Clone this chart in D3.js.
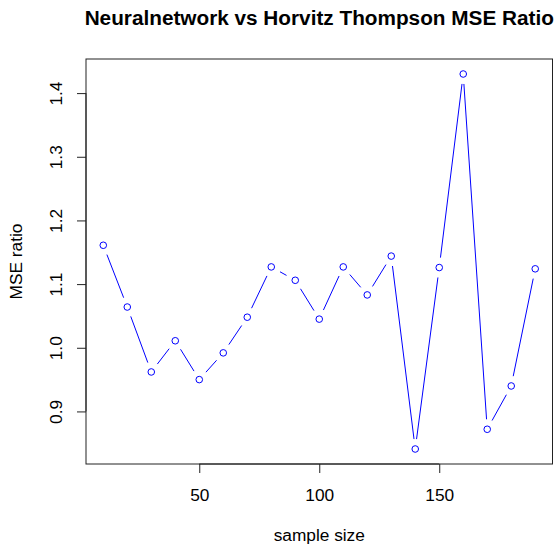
<!DOCTYPE html>
<html>
<head>
<meta charset="utf-8">
<script src="https://cdn.jsdelivr.net/npm/d3@7"></script>
<style>
  body { margin: 0; background: #fff; }
  text { font-family: "Liberation Sans", Arial, sans-serif; fill: #000; }
</style>
</head>
<body>
<div id="chart"></div>
<script>
// sample sizes and MSE ratio (neural network / Horvitz-Thompson)
var sampleSize = [10, 20, 30, 40, 50, 60, 70, 80, 90, 100,
                  110, 120, 130, 140, 150, 160, 170, 180, 190];
var mseRatio = [1.161, 1.064, 0.962, 1.011, 0.950, 0.992, 1.048, 1.127, 1.106, 1.045,
                1.127, 1.083, 1.144, 0.841, 1.126, 1.430, 0.872, 0.940, 1.124];
var xTicks = [50, 100, 150];
var yTicks = [0.9, 1.0, 1.1, 1.2, 1.3, 1.4];

var width = 554, height = 548;
var box = {left: 86, right: 552.5, top: 59, bottom: 464};
var fontSize = 17.3;

var svg = d3.select("#chart").append("svg")
  .attr("width", width)
  .attr("height", height);

// R style 4% padding on the data range
function pad(ext) {
  var d = (ext[1] - ext[0]) * 0.04;
  return [ext[0] - d, ext[1] + d];
}

var x = d3.scaleLinear()
  .domain(pad(d3.extent(sampleSize)))
  .range([box.left, box.right]);

var y = d3.scaleLinear()
  .domain(pad(d3.extent(mseRatio)))
  .range([box.bottom, box.top]);

var pts = sampleSize.map(function(s, i) { return {x: x(s), y: y(mseRatio[i])}; });

// lines with gaps around the points (type = "b")
var gap = 10;
var segs = [];
for (let i = 0; i < pts.length - 1; i++) {
  let a = pts[i], b = pts[i + 1];
  let dx = b.x - a.x, dy = b.y - a.y;
  let len = Math.sqrt(dx * dx + dy * dy);
  if (len <= 2 * gap) continue;
  let ux = dx / len, uy = dy / len;
  segs.push({x1: a.x + ux * gap, y1: a.y + uy * gap, x2: b.x - ux * gap, y2: b.y - uy * gap});
}

svg.append("g")
  .selectAll("line")
  .data(segs)
  .enter().append("line")
    .attr("x1", function(d) { return d.x1; })
    .attr("y1", function(d) { return d.y1; })
    .attr("x2", function(d) { return d.x2; })
    .attr("y2", function(d) { return d.y2; })
    .style("stroke", "#0000ff")
    .style("stroke-width", 1);

svg.append("g")
  .selectAll("circle")
  .data(pts)
  .enter().append("circle")
    .attr("cx", function(d) { return d.x; })
    .attr("cy", function(d) { return d.y; })
    .attr("r", 3.3)
    .style("fill", "none")
    .style("stroke", "#0000ff")
    .style("stroke-width", 1);

// plot box
svg.append("rect")
  .attr("x", box.left)
  .attr("y", box.top)
  .attr("width", box.right - box.left)
  .attr("height", box.bottom - box.top)
  .style("fill", "none")
  .style("stroke", "#222")
  .style("stroke-width", 1);

// axes
var xAxis = d3.axisBottom(x)
  .tickValues(xTicks)
  .tickFormat(d3.format("d"))
  .tickSize(9)
  .tickSizeOuter(0);

var gx = svg.append("g")
  .attr("transform", "translate(0," + box.bottom + ")")
  .call(xAxis);
gx.select(".domain")
  .attr("d", "M" + x(xTicks[0]) + ",0H" + x(xTicks[xTicks.length - 1]))
  .style("stroke", "#222");
gx.selectAll(".tick line").style("stroke", "#222");
gx.selectAll(".tick text")
  .style("font-size", fontSize + "px")
  .attr("dy", null)
  .attr("y", 37);

var yAxis = d3.axisLeft(y)
  .tickValues(yTicks)
  .tickFormat(d3.format(".1f"))
  .tickSize(9)
  .tickSizeOuter(0);

var gy = svg.append("g")
  .attr("transform", "translate(" + box.left + ",0)")
  .call(yAxis);
gy.select(".domain")
  .attr("d", "M0," + y(yTicks[0]) + "V" + y(yTicks[yTicks.length - 1]))
  .style("stroke", "#222");
gy.selectAll(".tick line").style("stroke", "#222");
gy.selectAll(".tick text")
  .style("font-size", fontSize + "px")
  .attr("x", null)
  .attr("dy", null)
  .attr("text-anchor", "middle")
  .attr("transform", "translate(-24,0) rotate(-90)");

// titles
svg.append("text")
  .attr("x", (box.left + box.right) / 2)
  .attr("y", 24.5)
  .attr("text-anchor", "middle")
  .style("font-size", (fontSize * 1.2) + "px")
  .style("font-weight", "bold")
  .text("Neuralnetwork vs Horvitz Thompson MSE Ratio");

svg.append("text")
  .attr("x", (box.left + box.right) / 2)
  .attr("y", 541)
  .attr("text-anchor", "middle")
  .style("font-size", fontSize + "px")
  .text("sample size");

svg.append("text")
  .attr("transform", "translate(22," + (box.top + box.bottom) / 2 + ") rotate(-90)")
  .attr("text-anchor", "middle")
  .style("font-size", fontSize + "px")
  .text("MSE ratio");
</script>
</body>
</html>
